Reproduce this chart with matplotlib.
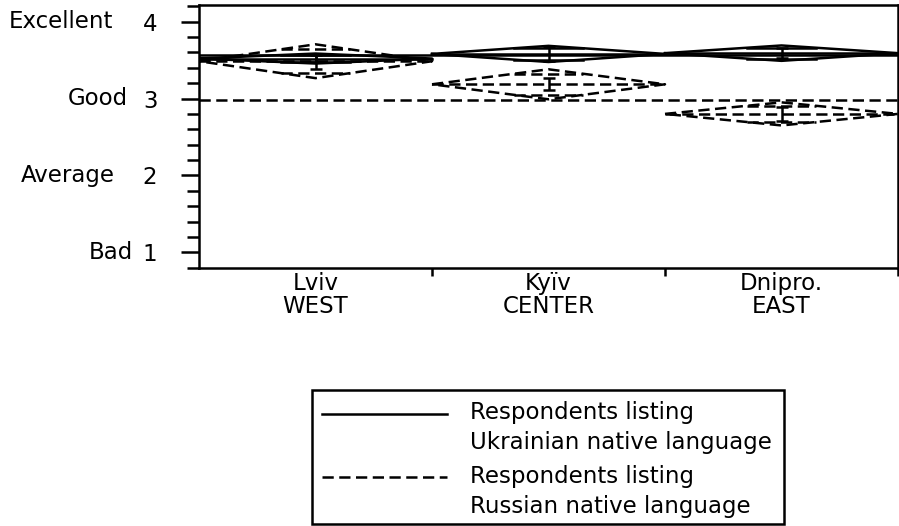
import numpy as np
import matplotlib
matplotlib.use("Agg")
import matplotlib.pyplot as plt
from matplotlib.patches import Rectangle
from matplotlib.lines import Line2D

# ---- data ----
regions = ["Lviv\nWEST", "Kyïv\nCENTER", "Dnipro.\nEAST"]
ukr_mean = [3.52, 3.58, 3.59]      # Ukrainian native language
ukr_ci = [0.065, 0.105, 0.10]
ukr_se = [0.04, 0.09, 0.065]
rus_mean = [3.485, 3.185, 2.80]    # Russian native language
rus_ci = [0.22, 0.195, 0.15]
rus_se = [0.10, 0.08, 0.09]
ukr_grand = 3.57
rus_grand = 2.98
score_ticks = [1, 2, 3, 4]
score_words = ["Bad", "Average", "Good", "Excellent"]
word_right_px = [133, 115, 128, 113]
legend_labels = ["Respondents listing\nUkrainian native language",
                 "Respondents listing\nRussian native language"]

plt.rcParams['font.family'] = ['DejaVu Sans']
FS = 16.5
W, H = 899, 526
fig = plt.figure(figsize=(W / 100, H / 100), dpi=100)
ax = fig.add_axes([199 / W, 1 - 267.7 / H, (898 - 199) / W, (267.7 - 4.7) / H])

DASH = (0, (4.5, 2.2))
LW = 1.8


def diamonds(means, cis, ses, ls):
    for i, (m, c, s) in enumerate(zip(means, cis, ses)):
        xs = [i, i + 0.5, i + 1, i + 0.5, i]
        ys = [m, m + c, m, m - c, m]
        ax.plot(xs, ys, color='black', lw=LW, linestyle=ls)
        ax.plot([i, i + 1], [m, m], color='black', lw=LW, linestyle=ls)
        # overlap marks
        off = c / np.sqrt(2)
        half = 0.5 * (1 - 1 / np.sqrt(2))
        for sgn in (1, -1):
            ax.plot([i + 0.5 - half, i + 0.5 + half], [m + sgn * off] * 2,
                    color='black', lw=LW, linestyle=ls)
        ax.errorbar(i + 0.5, m, yerr=s, color='black', lw=LW, capsize=4,
                    capthick=LW)


ax.axhline(ukr_grand, color='black', lw=LW)
ax.axhline(rus_grand, color='black', lw=LW, linestyle=DASH)
diamonds(ukr_mean, ukr_ci, ukr_se, '-')
diamonds(rus_mean, rus_ci, rus_se, DASH)

ax.set_xlim(0, 3)
ax.set_ylim(0.8, 4.22)

# y axis
ax.set_yticks(score_ticks)
ax.set_yticklabels([str(t) for t in score_ticks], fontsize=FS)
ax.set_yticks(np.arange(0.8, 4.21, 0.2), minor=True)
ax.tick_params(axis='y', which='major', length=13, width=1.8, pad=17)
ax.tick_params(axis='y', which='minor', length=8.6, width=1.8)
for t, w, xr in zip(score_ticks, score_words, word_right_px):
    ax.annotate(w, xy=(xr / W, t), xycoords=('figure fraction', 'data'),
                ha='right', va='center', fontsize=FS)

# x axis
ax.set_xticks([1, 2, 3])
ax.set_xticklabels([])
ax.set_xticks([0.5, 1.5, 2.5], minor=True)
ax.set_xticklabels(regions, minor=True, fontsize=FS)
ax.tick_params(axis='x', which='major', length=6, width=1.8)
ax.tick_params(axis='x', which='minor', length=0, pad=3)
for lbl in ax.get_xticklabels(minor=True):
    lbl.set_linespacing(1.0)

for sp in ax.spines.values():
    sp.set_linewidth(1.8)

# legend box drawn by hand
fig.add_artist(Rectangle((312 / W, 1 - 524 / H), (784 - 312) / W, (524 - 390) / H,
                         transform=fig.transFigure, fill=False, lw=1.8,
                         edgecolor='black'))
for ly, ls, lab in zip([414, 477], ['-', DASH], legend_labels):
    fig.add_artist(Line2D([322 / W, 447 / W], [1 - ly / H] * 2,
                          transform=fig.transFigure, color='black', lw=LW,
                          linestyle=ls))
    first, second = lab.split("\n")
    fig.text(470 / W, 1 - (ly - 1) / H, first, va='center', ha='left', fontsize=FS)
    fig.text(470 / W, 1 - (ly + 29) / H, second, va='center', ha='left', fontsize=FS)

fig.savefig("out.png", dpi=100)
